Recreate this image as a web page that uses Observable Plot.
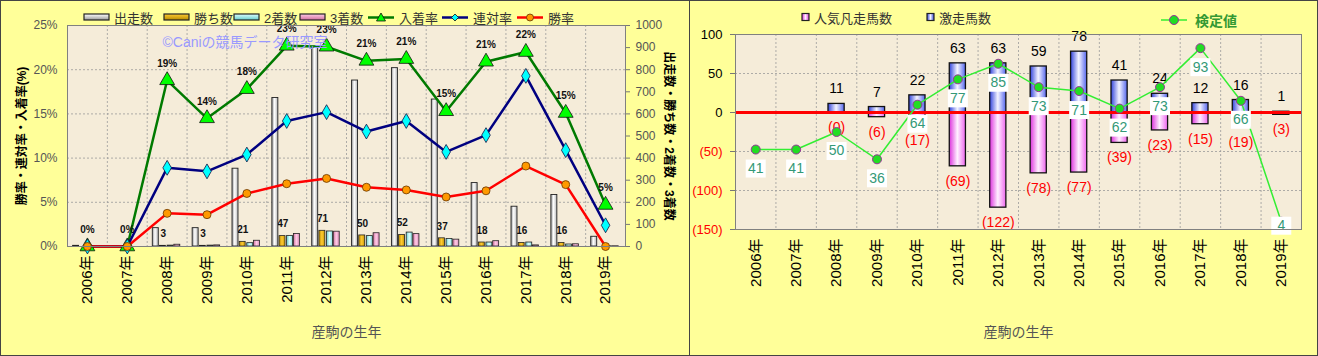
<!DOCTYPE html>
<html><head><meta charset="utf-8">
<script src="https://cdn.jsdelivr.net/npm/d3@7"></script>
<script src="https://cdn.jsdelivr.net/npm/@observablehq/plot@0.6"></script>
<style>
body{margin:0;background:#fff;font-family:"Liberation Sans","Noto Sans CJK JP",sans-serif;}
#wrap{position:relative;width:1318px;height:356px;overflow:hidden;}
.panel{position:absolute;top:0;height:356px;background:#FFFF99;}
.border{position:absolute;top:0;height:356px;border:1px solid #444;box-sizing:border-box;pointer-events:none;}
.leg{position:absolute;display:flex;align-items:center;font-size:13px;color:#333;white-space:nowrap;height:16px;}
.leg svg{margin-right:3px;}
</style>
</head><body>
<div id="wrap">
  <div class="panel" id="pl" style="left:0;width:690px"></div>
  <div class="panel" id="pr" style="left:690px;width:628px"></div>
  <div class="border" style="left:0;width:690px"></div>
  <div class="border" style="left:689px;width:629px"></div>
</div>
<script>
// ---------- data (left chart) ----------
const years = [2006,2007,2008,2009,2010,2011,2012,2013,2014,2015,2016,2017,2018,2019];
const starts  = [3,2,83,83,352,672,902,751,807,665,287,180,233,44];      // 出走数
const wins    = [0,0,3,3,21,47,71,50,52,37,18,16,16,0];                  // 勝ち数
const seconds = [0,0,4,4,15,48,68,47,63,34,18,18,9,1];                   // 2着数
const thirds  = [0,0,8,5,26,57,67,60,56,31,24,5,10,1];                   // 3着数
const placeRate  = [0,0,18.8,14.5,17.8,22.7,22.6,21.0,21.2,15.3,20.9,22.0,15.1,4.7]; // 入着率
const rentaiRate = [0,0,8.9,8.5,10.4,14.2,15.2,13.0,14.2,10.7,12.6,19.3,10.9,2.4];   // 連対率
const winRate    = [0,0,3.75,3.6,6.0,7.1,7.7,6.7,6.4,5.6,6.3,9.1,7.0,0];             // 勝率
const placeLabels = ["0%","0%","19%","14%","18%","23%","23%","21%","21%","15%","21%","22%","15%","5%"];
const winLabels   = ["","","3","3","21","47","71","50","52","37","18","16","16",""];
const pctTicks   = [0,5,10,15,20,25];
const countTicks = [0,100,200,300,400,500,600,700,800,900,1000];

// ---------- data (right chart) ----------
const gekisou = [0,0,11,7,22,63,63,59,78,41,24,12,16,1];     // 激走馬数
const bonsou  = [0,0,0,6,17,69,122,78,77,39,23,15,19,3];     // 人気凡走馬数
const kentei  = [41,41,50,36,64,77,85,73,71,62,73,93,66,4];  // 検定値
const rightPosTicks = [0,50,100];
const rightNegTicks = [-150,-100,-50];

const FF = '"Liberation Sans","Noto Sans CJK JP",sans-serif';
const cp = 25/1000; // counts -> left % axis
const rows = years.map((year,i)=>({year, starts:starts[i], wins:wins[i], seconds:seconds[i], thirds:thirds[i],
  place:placeRate[i], rentai:rentaiRate[i], win:winRate[i], placeLabel:placeLabels[i], winLabel:winLabels[i]}));
const rows2 = years.map((year,i)=>({year, g:gekisou[i], b:bonsou[i], k:kentei[i]}));
const kScale = v => v*2.5 - 150; // secondary 0..100 axis onto -150..100
const halfYears = d3.range(2006.5, 2019.4, 1);

const gridStyle = {stroke:"#9a9a9a", strokeOpacity:1, strokeDasharray:"2,2", strokeWidth:0.8};

const left = Plot.plot({
  width:690, height:356, marginLeft:67, marginRight:65, marginTop:25, marginBottom:110,
  style:{background:"transparent", fontFamily:FF, overflow:"visible"},
  x:{domain:[2005.5,2019.5]},
  y:{domain:[0,25]},
  marks:[
    Plot.frame({fill:"#F5ECD9"}),
    Plot.gridY({ticks:[5,10,15,20], ...gridStyle}),
    Plot.gridX({ticks:halfYears, ...gridStyle}),
    Plot.rectY(rows,{x1:d=>d.year-0.18,x2:d=>d.year-0.03,y1:0,y2:d=>d.wins*cp,fill:"url(#gWin)",stroke:"#222",strokeWidth:0.8}),
    Plot.rectY(rows,{x1:d=>d.year+0.01,x2:d=>d.year+0.16,y1:0,y2:d=>d.seconds*cp,fill:"url(#gSec)",stroke:"#222",strokeWidth:0.8}),
    Plot.rectY(rows,{x1:d=>d.year+0.18,x2:d=>d.year+0.33,y1:0,y2:d=>d.thirds*cp,fill:"url(#gThi)",stroke:"#222",strokeWidth:0.8}),
    Plot.text(rows,{x:d=>d.year-0.1,y:d=>d.wins*cp,text:"winLabel",dy:-12,fontSize:10,fontWeight:"bold",fill:"#111"}),
    Plot.rectY(rows,{x1:d=>d.year-0.36,x2:d=>d.year-0.21,y1:0,y2:d=>d.starts*cp,fill:"url(#gStart)",stroke:"#222",strokeWidth:0.9}),
    Plot.line(rows,{x:"year",y:"place",stroke:"#007A00",strokeWidth:2.5}),
    Plot.line(rows,{x:"year",y:"rentai",stroke:"#000080",strokeWidth:2.5}),
    Plot.line(rows,{x:"year",y:"win",stroke:"#FF0000",strokeWidth:2.5}),
    Plot.dot(rows,{x:"year",y:"place",symbol:"triangle",r:5.5,fill:"#00FF00",stroke:"#111",strokeWidth:0.8}),
    Plot.dot(rows,{x:"year",y:"rentai",symbol:"diamond",r:4.5,fill:"#00FFFF",stroke:"#114",strokeWidth:0.8}),
    Plot.dot(rows,{x:"year",y:"win",r:4,fill:"#FF9900",stroke:"#663300",strokeWidth:0.8}),
    Plot.text(rows,{x:"year",y:"place",text:"placeLabel",dy:-17,fontSize:10,fontWeight:"bold",fill:"#111"}),
    Plot.text(["©Caniの競馬データ研究室"],{frameAnchor:"top-left",dx:95,dy:17,lineAnchor:"middle",textAnchor:"start",fill:"#9999FF",fontSize:14}),
    Plot.axisY({ticks:pctTicks,tickFormat:d=>d+"%",tickSize:0,tickPadding:10,fontSize:12,fill:"#555",label:null}),
    Plot.axisY({anchor:"right",ticks:countTicks.map(v=>v*cp),tickFormat:d=>String(Math.round(d/cp)),tickSize:4,tickPadding:6,fontSize:12,fill:"#555",stroke:"#777",label:null}),
    Plot.axisX({ticks:years,tickFormat:d=>d+"年",tickRotate:-90,tickSize:0,tickPadding:9,fontSize:15,fill:"#000",label:null}),
    Plot.text(["勝率・連対率・入着率(%)"],{frameAnchor:"left",textAnchor:"middle",lineAnchor:"middle",rotate:-90,dx:-45,fontSize:12,fontWeight:"bold",fill:"#000"}),
    Plot.text(["出走数・勝ち数・2着数・3着数"],{frameAnchor:"right",textAnchor:"middle",lineAnchor:"middle",rotate:90,dx:43,fontSize:12,fontWeight:"bold",fill:"#000"}),
    Plot.text(["産駒の生年"],{frameAnchor:"bottom",dy:86,lineAnchor:"middle",fontSize:14,fill:"#555"}),
    Plot.frame({stroke:"#808080"})
  ]
});

const boxSymbol = {draw(ctx){ ctx.rect(-10,-9,20,18); }};
const rowsBars = rows2.filter(d=>d.year>=2008);
const right = Plot.plot({
  width:628, height:356, marginLeft:45, marginRight:17, marginTop:34, marginBottom:127,
  style:{background:"transparent", fontFamily:FF, overflow:"visible"},
  x:{domain:[2005.5,2019.5]},
  y:{domain:[-150,100]},
  marks:[
    Plot.frame({fill:"#F5ECD9"}),
    Plot.gridY({ticks:[-100,-50,50], ...gridStyle}),
    Plot.gridX({ticks:halfYears, ...gridStyle}),
    Plot.rectY(rowsBars,{x1:d=>d.year-0.2,x2:d=>d.year+0.2,y1:0,y2:d=>-d.b,fill:"url(#gPink)",stroke:"#111",strokeWidth:1.3}),
    Plot.rectY(rowsBars,{x1:d=>d.year-0.2,x2:d=>d.year+0.2,y1:0,y2:d=>d.g,fill:"url(#gBlue)",stroke:"#111",strokeWidth:1.3}),
    Plot.ruleY([0],{stroke:"#FF0000",strokeWidth:3}),
    Plot.text(rowsBars,{x:"year",y:"g",text:d=>String(d.g),dy:-15,fontSize:14,fill:"#000"}),
    Plot.text(rowsBars,{x:"year",y:d=>-d.b,text:d=>`(${d.b})`,dy:15,fontSize:14,fill:"#FF0000"}),
    Plot.line(rows2,{x:"year",y:d=>kScale(d.k),stroke:"#33EE33",strokeWidth:1.5}),
    Plot.dot(rows2,{x:"year",y:d=>kScale(d.k),r:4.5,fill:"#22DD22",stroke:"#993399",strokeWidth:1}),
    Plot.dot(rows2.slice(0,13),{x:"year",y:d=>kScale(d.k),dy:19,symbol:boxSymbol,fill:"#fff"}),
    Plot.text(rows2.slice(0,13),{x:"year",y:d=>kScale(d.k),dy:19,text:d=>String(d.k),fontSize:14,fill:"#339977"}),
    Plot.dot(rows2.slice(13),{x:"year",y:d=>kScale(d.k),dy:4,symbol:boxSymbol,fill:"#fff"}),
    Plot.text(rows2.slice(13),{x:"year",y:d=>kScale(d.k),dy:4,text:d=>String(d.k),fontSize:14,fill:"#339977"}),
    Plot.axisY({ticks:rightPosTicks,tickSize:5,tickPadding:8,fontSize:13,fill:"#000",stroke:"#777",label:null}),
    Plot.axisY({ticks:rightNegTicks,tickFormat:d=>`(${-d})`,tickSize:5,tickPadding:8,fontSize:13,fill:"#FF0000",stroke:"#777",label:null}),
    Plot.axisX({ticks:years,tickFormat:d=>d+"年",tickRotate:-90,tickSize:0,tickPadding:9,fontSize:15,fill:"#000",label:null}),
    Plot.text(["産駒の生年"],{frameAnchor:"bottom",dy:103,lineAnchor:"middle",fontSize:14,fill:"#555"}),
    Plot.frame({stroke:"#808080"})
  ]
});

function grad(defs,id,stops){
  const g = defs.append("linearGradient").attr("id",id).attr("x1",0).attr("x2",1).attr("y1",0).attr("y2",0);
  stops.forEach(([o,c])=>g.append("stop").attr("offset",o).attr("stop-color",c));
}
const dl = d3.select(left).insert("defs",":first-child");
grad(dl,"gStart",[[0,"#9a9a9a"],[0.45,"#ffffff"],[1,"#b5b5b5"]]);
grad(dl,"gWin",[[0,"#B88A00"],[0.5,"#FFCC33"],[1,"#C89600"]]);
grad(dl,"gSec",[[0,"#66CCCC"],[0.5,"#DDFFFF"],[1,"#88E0E0"]]);
grad(dl,"gThi",[[0,"#D0709F"],[0.5,"#FFCCE6"],[1,"#E090BB"]]);
const dr = d3.select(right).insert("defs",":first-child");
grad(dr,"gBlue",[[0,"#3344DD"],[0.5,"#F4F4FF"],[1,"#5566EE"]]);
grad(dr,"gPink",[[0,"#DD33DD"],[0.5,"#FFF0FF"],[1,"#EE66EE"]]);

document.getElementById("pl").appendChild(left);
document.getElementById("pr").appendChild(right);
left.style.position="absolute"; left.style.left="0"; left.style.top="0";
right.style.position="absolute"; right.style.left="0"; right.style.top="0";

// ---------- legends ----------
const legL = [
  {x:83, t:"出走数", type:"bar", c1:"#9a9a9a", c2:"#ffffff"},
  {x:163, t:"勝ち数", type:"bar", c1:"#B88A00", c2:"#FFCC33"},
  {x:233, t:"2着数", type:"bar", c1:"#66CCCC", c2:"#DDFFFF"},
  {x:299, t:"3着数", type:"bar", c1:"#D0709F", c2:"#FFCCE6"},
  {x:368, t:"入着率", type:"line", stroke:"#007A00", sym:"tri", fill:"#00FF00"},
  {x:442, t:"連対率", type:"line", stroke:"#000080", sym:"dia", fill:"#00FFFF"},
  {x:517, t:"勝率", type:"line", stroke:"#FF0000", sym:"cir", fill:"#FF9900"}
];
const legR = [
  {x:801, t:"人気凡走馬数", type:"sq", c1:"#DD33DD", c2:"#FFF0FF"},
  {x:926, t:"激走馬数", type:"sq", c1:"#3344DD", c2:"#F4F4FF"},
  {x:1161, t:"検定値", type:"kline"}
];
let gi=0;
function swatch(it){
  const id="lg"+(gi++);
  if(it.type==="bar") return `<svg width="28" height="10"><defs><linearGradient id="${id}" x1="0" x2="0" y1="0" y2="1"><stop offset="0" stop-color="${it.c2}"/><stop offset="1" stop-color="${it.c1}"/></linearGradient></defs><rect x="1" y="2" width="25" height="6" fill="url(#${id})" stroke="#222" stroke-width="1.2"/></svg>`;
  if(it.type==="sq") return `<svg width="10" height="10"><defs><linearGradient id="${id}" x1="0" x2="1"><stop offset="0" stop-color="${it.c1}"/><stop offset="0.5" stop-color="${it.c2}"/><stop offset="1" stop-color="${it.c1}"/></linearGradient></defs><rect x="1" y="1.5" width="7" height="7" fill="url(#${id})" stroke="#222" stroke-width="1.2"/></svg>`;
  if(it.type==="kline") return `<svg width="31" height="14"><line x1="0" x2="26" y1="7" y2="7" stroke="#33EE33" stroke-width="1.5"/><circle cx="13" cy="7" r="4.5" fill="#22DD22" stroke="#993399"/></svg>`;
  let m="";
  if(it.sym==="tri") m=`<path d="M13,2 L17.5,10 L8.5,10 Z" fill="${it.fill}" stroke="#111" stroke-width="0.8"/>`;
  if(it.sym==="dia") m=`<path d="M13,3 L16.5,6.5 L13,10 L9.5,6.5 Z" fill="${it.fill}" stroke="#111" stroke-width="0.8"/>`;
  if(it.sym==="cir") m=`<circle cx="13" cy="6.5" r="3.5" fill="${it.fill}" stroke="#663300" stroke-width="0.8"/>`;
  return `<svg width="28" height="13"><line x1="0" x2="26" y1="6.5" y2="6.5" stroke="${it.stroke}" stroke-width="2.5"/>${m}</svg>`;
}
const wrap = document.getElementById("wrap");
[...legL, ...legR].forEach(it=>{
  const d=document.createElement("div"); d.className="leg";
  d.style.left=it.x+"px"; d.style.top=(it.type==="kline"?12:9)+"px";
  const col = it.type==="kline" ? "color:#339933;font-weight:bold;font-size:14px" : "";
  d.innerHTML = swatch(it)+`<span style="${col}">${it.t}</span>`;
  wrap.appendChild(d);
});
</script>
</body></html>
